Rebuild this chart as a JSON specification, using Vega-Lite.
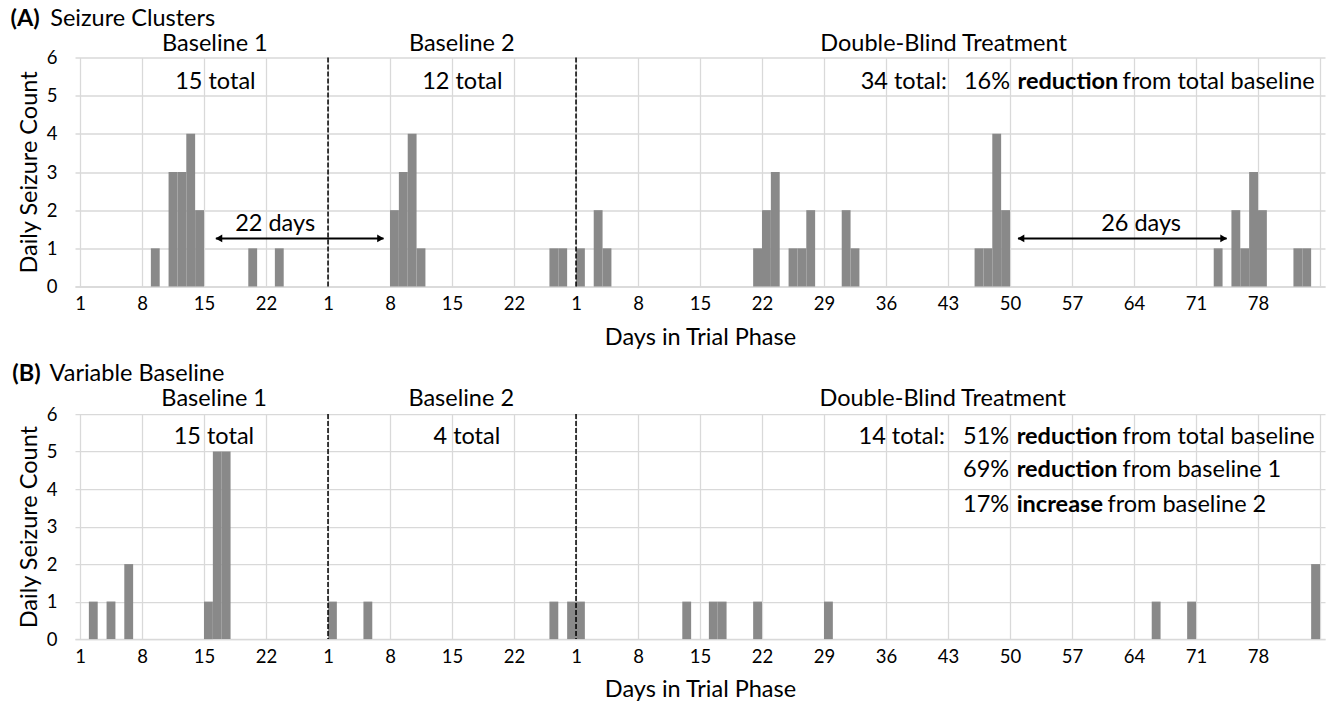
{
  "$schema": "https://vega.github.io/schema/vega-lite/v6.json",
  "padding": {"left": 10, "top": 6.5, "right": 5, "bottom": 5},
  "background": "white",
  "config": {
    "font": "Lato",
    "view": {"stroke": null},
    "axis": {"labelColor": "#000", "titleColor": "#000", "titleFontWeight": "normal", "titleFont": "Lato", "labelFont": "Lato"},
    "axisX": {"labelDx": 4.46, "labelFontSize": 18.5, "labelPadding": 8, "labelOverlap": false, "labelFlush": false, "labelBound": false,
      "ticks": false, "domain": true, "domainColor": "#d9d9d9", "domainWidth": 1.5, "grid": true, "gridColor": "#d9d9d9", "gridWidth": 1.3,
      "titleFontSize": 23.5, "titlePadding": 12},
    "axisY": {"labelFontSize": 18.5, "labelPadding": 18, "labelOverlap": false, "ticks": false, "domain": false, "grid": true,
      "gridColor": "#d9d9d9", "gridWidth": 1.3, "titleFontSize": 23.5, "titlePadding": 5}
  },
  "spacing": 127.6,
  "bounds": "flush",
  "datasets": {
    "barsA": [
      {"day": 9, "count": 1}, {"day": 11, "count": 3}, {"day": 12, "count": 3}, {"day": 13, "count": 4}, {"day": 14, "count": 2},
      {"day": 20, "count": 1}, {"day": 23, "count": 1},
      {"day": 36, "count": 2}, {"day": 37, "count": 3}, {"day": 38, "count": 4}, {"day": 39, "count": 1},
      {"day": 54, "count": 1}, {"day": 55, "count": 1},
      {"day": 57, "count": 1}, {"day": 59, "count": 2}, {"day": 60, "count": 1},
      {"day": 77, "count": 1}, {"day": 78, "count": 2}, {"day": 79, "count": 3},
      {"day": 81, "count": 1}, {"day": 82, "count": 1}, {"day": 83, "count": 2},
      {"day": 87, "count": 2}, {"day": 88, "count": 1},
      {"day": 102, "count": 1}, {"day": 103, "count": 1}, {"day": 104, "count": 4}, {"day": 105, "count": 2},
      {"day": 129, "count": 1}, {"day": 131, "count": 2}, {"day": 132, "count": 1}, {"day": 133, "count": 3}, {"day": 134, "count": 2},
      {"day": 138, "count": 1}, {"day": 139, "count": 1}
    ],
    "barsB": [
      {"day": 2, "count": 1}, {"day": 4, "count": 1}, {"day": 6, "count": 2}, {"day": 15, "count": 1}, {"day": 16, "count": 5}, {"day": 17, "count": 5},
      {"day": 29, "count": 1}, {"day": 33, "count": 1}, {"day": 54, "count": 1}, {"day": 56, "count": 1},
      {"day": 57, "count": 1}, {"day": 69, "count": 1}, {"day": 72, "count": 1}, {"day": 73, "count": 1}, {"day": 77, "count": 1}, {"day": 85, "count": 1},
      {"day": 122, "count": 1}, {"day": 126, "count": 1}, {"day": 140, "count": 2}
    ],
    "phaseEnds": [{"last_day": 28, "level": 0}, {"last_day": 56, "level": 0}],
    "notes": [
      {"panel": "A", "kind": "bold", "text": "(A)", "day": -7.34, "level": 6.83},
      {"panel": "A", "kind": "left", "text": "Seizure Clusters", "day": -2.86, "level": 6.83},
      {"panel": "A", "kind": "center", "text": "Baseline 1", "day": 15.73, "level": 6.18},
      {"panel": "A", "kind": "center", "text": "Baseline 2", "day": 43.6, "level": 6.18},
      {"panel": "A", "kind": "center", "text": "Double-Blind Treatment", "day": 98.0, "level": 6.18},
      {"panel": "A", "kind": "center", "text": "15 total", "day": 15.79, "level": 5.18},
      {"panel": "A", "kind": "center", "text": "12 total", "day": 43.67, "level": 5.18},
      {"panel": "A", "kind": "left", "text": "34 total:", "day": 88.64, "level": 5.18},
      {"panel": "A", "kind": "left", "text": "16%", "day": 100.3, "level": 5.18},
      {"panel": "A", "kind": "bold", "text": "reduction", "day": 106.35, "level": 5.18},
      {"panel": "A", "kind": "left", "text": "from total baseline", "day": 118.2, "level": 5.18},
      {"panel": "A", "kind": "center", "text": "22 days", "day": 22.53, "level": 1.46},
      {"panel": "A", "kind": "center", "text": "26 days", "day": 120.3, "level": 1.46},
      {"panel": "B", "kind": "bold", "text": "(B)", "day": -7.15, "level": 6.87},
      {"panel": "B", "kind": "left", "text": "Variable Baseline", "day": -2.94, "level": 6.87},
      {"panel": "B", "kind": "center", "text": "Baseline 1", "day": 15.65, "level": 6.22},
      {"panel": "B", "kind": "center", "text": "Baseline 2", "day": 43.54, "level": 6.22},
      {"panel": "B", "kind": "center", "text": "Double-Blind Treatment", "day": 97.9, "level": 6.22},
      {"panel": "B", "kind": "center", "text": "15 total", "day": 15.62, "level": 5.2},
      {"panel": "B", "kind": "center", "text": "4 total", "day": 44.18, "level": 5.2},
      {"panel": "B", "kind": "left", "text": "14 total:", "day": 88.4, "level": 5.2},
      {"panel": "B", "kind": "left", "text": "51%", "day": 100.2, "level": 5.2},
      {"panel": "B", "kind": "bold", "text": "reduction", "day": 106.25, "level": 5.2},
      {"panel": "B", "kind": "left", "text": "from total baseline", "day": 118.2, "level": 5.2},
      {"panel": "B", "kind": "left", "text": "69%", "day": 100.2, "level": 4.31},
      {"panel": "B", "kind": "bold", "text": "reduction", "day": 106.25, "level": 4.31},
      {"panel": "B", "kind": "left", "text": "from baseline 1", "day": 118.2, "level": 4.31},
      {"panel": "B", "kind": "left", "text": "17%", "day": 100.2, "level": 3.39},
      {"panel": "B", "kind": "bold", "text": "increase", "day": 106.25, "level": 3.39},
      {"panel": "B", "kind": "left", "text": "from baseline 2", "day": 116.5, "level": 3.39}
    ],
    "arrowsA": [
      {"from": 15.84, "to": 34.77, "level": 1.26},
      {"from": 106.4, "to": 129.96, "level": 1.26}
    ]
  },
  "vconcat": [
    {
      "width": 1250,
      "height": 229,
      "layer": [
        {
          "data": {"name": "barsA"},
          "mark": {"type": "bar", "orient": "vertical", "width": 8.85, "color": "#898989"},
          "encoding": {
            "x": {"field": "day", "type": "quantitative", "scale": {"domain": [0.5, 140.5], "nice": false, "zero": false}, "title": "Days in Trial Phase",
              "axis": {"values": [0.5, 7.5, 14.5, 21.5, 28.5, 35.5, 42.5, 49.5, 56.5, 63.5, 70.5, 77.5, 84.5, 91.5, 98.5, 105.5, 112.5, 119.5, 126.5, 133.5, 140.5],
                "labelExpr": "datum.value > 140 ? '' : datum.value < 28 ? format(datum.value + 0.5, 'd') : datum.value < 56 ? format(datum.value - 27.5, 'd') : format(datum.value - 55.5, 'd')"}},
            "y": {"field": "count", "type": "quantitative", "scale": {"domain": [0, 6], "nice": false}, "title": "Daily Seizure Count", "axis": {"values": [0, 1, 2, 3, 4, 5, 6]}}
          }
        },
        {
          "data": {"name": "phaseEnds"},
          "mark": {"type": "rule", "color": "#000", "strokeDash": [5, 2], "strokeWidth": 1.5, "xOffset": 4.46},
          "encoding": {
            "x": {"field": "last_day", "type": "quantitative", "scale": {"domain": [0.5, 140.5], "nice": false, "zero": false}, "title": "Days in Trial Phase",
              "axis": {"values": [0.5, 7.5, 14.5, 21.5, 28.5, 35.5, 42.5, 49.5, 56.5, 63.5, 70.5, 77.5, 84.5, 91.5, 98.5, 105.5, 112.5, 119.5, 126.5, 133.5, 140.5],
                "labelExpr": "datum.value > 140 ? '' : datum.value < 28 ? format(datum.value + 0.5, 'd') : datum.value < 56 ? format(datum.value - 27.5, 'd') : format(datum.value - 55.5, 'd')"}}
          }
        },
        {
          "data": {"name": "arrowsA"},
          "mark": {"type": "rule", "color": "#000", "strokeWidth": 2},
          "encoding": {
            "x": {"field": "from", "type": "quantitative", "scale": {"domain": [0.5, 140.5], "nice": false, "zero": false}, "title": "Days in Trial Phase",
              "axis": {"values": [0.5, 7.5, 14.5, 21.5, 28.5, 35.5, 42.5, 49.5, 56.5, 63.5, 70.5, 77.5, 84.5, 91.5, 98.5, 105.5, 112.5, 119.5, 126.5, 133.5, 140.5],
                "labelExpr": "datum.value > 140 ? '' : datum.value < 28 ? format(datum.value + 0.5, 'd') : datum.value < 56 ? format(datum.value - 27.5, 'd') : format(datum.value - 55.5, 'd')"}},
            "x2": {"field": "to"},
            "y": {"field": "level", "type": "quantitative", "scale": {"domain": [0, 6], "nice": false}, "title": "Daily Seizure Count", "axis": {"values": [0, 1, 2, 3, 4, 5, 6]}}
          }
        },
        {
          "data": {"name": "arrowsA"},
          "mark": {"type": "point", "shape": "triangle-left", "filled": true, "color": "#000", "size": 60, "opacity": 1, "xOffset": 3},
          "encoding": {
            "x": {"field": "from", "type": "quantitative", "scale": {"domain": [0.5, 140.5], "nice": false, "zero": false}, "title": "Days in Trial Phase",
              "axis": {"values": [0.5, 7.5, 14.5, 21.5, 28.5, 35.5, 42.5, 49.5, 56.5, 63.5, 70.5, 77.5, 84.5, 91.5, 98.5, 105.5, 112.5, 119.5, 126.5, 133.5, 140.5],
                "labelExpr": "datum.value > 140 ? '' : datum.value < 28 ? format(datum.value + 0.5, 'd') : datum.value < 56 ? format(datum.value - 27.5, 'd') : format(datum.value - 55.5, 'd')"}},
            "y": {"field": "level", "type": "quantitative", "scale": {"domain": [0, 6], "nice": false}, "title": "Daily Seizure Count", "axis": {"values": [0, 1, 2, 3, 4, 5, 6]}}
          }
        },
        {
          "data": {"name": "arrowsA"},
          "mark": {"type": "point", "shape": "triangle-right", "filled": true, "color": "#000", "size": 60, "opacity": 1, "xOffset": -3},
          "encoding": {
            "x": {"field": "to", "type": "quantitative", "scale": {"domain": [0.5, 140.5], "nice": false, "zero": false}, "title": "Days in Trial Phase",
              "axis": {"values": [0.5, 7.5, 14.5, 21.5, 28.5, 35.5, 42.5, 49.5, 56.5, 63.5, 70.5, 77.5, 84.5, 91.5, 98.5, 105.5, 112.5, 119.5, 126.5, 133.5, 140.5],
                "labelExpr": "datum.value > 140 ? '' : datum.value < 28 ? format(datum.value + 0.5, 'd') : datum.value < 56 ? format(datum.value - 27.5, 'd') : format(datum.value - 55.5, 'd')"}},
            "y": {"field": "level", "type": "quantitative", "scale": {"domain": [0, 6], "nice": false}, "title": "Daily Seizure Count", "axis": {"values": [0, 1, 2, 3, 4, 5, 6]}}
          }
        },
        {
          "data": {"name": "notes"},
          "transform": [{"filter": "datum.panel === 'A'"}],
          "layer": [
            {"transform": [{"filter": "datum.kind === 'center'"}], "mark": {"type": "text", "align": "center", "baseline": "alphabetic", "fontSize": 23.5, "font": "Lato", "color": "#000"}},
            {"transform": [{"filter": "datum.kind === 'left'"}], "mark": {"type": "text", "align": "left", "baseline": "alphabetic", "fontSize": 23.5, "font": "Lato", "color": "#000"}},
            {"transform": [{"filter": "datum.kind === 'bold'"}], "mark": {"type": "text", "align": "left", "baseline": "alphabetic", "fontSize": 23.5, "font": "Lato", "fontWeight": "bold", "color": "#000"}}
          ],
          "encoding": {
            "x": {"field": "day", "type": "quantitative", "scale": {"domain": [0.5, 140.5], "nice": false, "zero": false}, "title": "Days in Trial Phase",
              "axis": {"values": [0.5, 7.5, 14.5, 21.5, 28.5, 35.5, 42.5, 49.5, 56.5, 63.5, 70.5, 77.5, 84.5, 91.5, 98.5, 105.5, 112.5, 119.5, 126.5, 133.5, 140.5],
                "labelExpr": "datum.value > 140 ? '' : datum.value < 28 ? format(datum.value + 0.5, 'd') : datum.value < 56 ? format(datum.value - 27.5, 'd') : format(datum.value - 55.5, 'd')"}},
            "y": {"field": "level", "type": "quantitative", "scale": {"domain": [0, 6], "nice": false}, "title": "Daily Seizure Count", "axis": {"values": [0, 1, 2, 3, 4, 5, 6]}},
            "text": {"field": "text"}
          }
        }
      ]
    },
    {
      "width": 1250,
      "height": 225,
      "layer": [
        {
          "data": {"name": "barsB"},
          "mark": {"type": "bar", "orient": "vertical", "width": 8.85, "color": "#898989"},
          "encoding": {
            "x": {"field": "day", "type": "quantitative", "scale": {"domain": [0.5, 140.5], "nice": false, "zero": false}, "title": "Days in Trial Phase",
              "axis": {"values": [0.5, 7.5, 14.5, 21.5, 28.5, 35.5, 42.5, 49.5, 56.5, 63.5, 70.5, 77.5, 84.5, 91.5, 98.5, 105.5, 112.5, 119.5, 126.5, 133.5, 140.5],
                "labelExpr": "datum.value > 140 ? '' : datum.value < 28 ? format(datum.value + 0.5, 'd') : datum.value < 56 ? format(datum.value - 27.5, 'd') : format(datum.value - 55.5, 'd')"}},
            "y": {"field": "count", "type": "quantitative", "scale": {"domain": [0, 6], "nice": false}, "title": "Daily Seizure Count", "axis": {"values": [0, 1, 2, 3, 4, 5, 6]}}
          }
        },
        {
          "data": {"name": "phaseEnds"},
          "mark": {"type": "rule", "color": "#000", "strokeDash": [5, 2], "strokeWidth": 1.5, "xOffset": 4.46},
          "encoding": {
            "x": {"field": "last_day", "type": "quantitative", "scale": {"domain": [0.5, 140.5], "nice": false, "zero": false}, "title": "Days in Trial Phase",
              "axis": {"values": [0.5, 7.5, 14.5, 21.5, 28.5, 35.5, 42.5, 49.5, 56.5, 63.5, 70.5, 77.5, 84.5, 91.5, 98.5, 105.5, 112.5, 119.5, 126.5, 133.5, 140.5],
                "labelExpr": "datum.value > 140 ? '' : datum.value < 28 ? format(datum.value + 0.5, 'd') : datum.value < 56 ? format(datum.value - 27.5, 'd') : format(datum.value - 55.5, 'd')"}}
          }
        },
        {
          "data": {"name": "notes"},
          "transform": [{"filter": "datum.panel === 'B'"}],
          "layer": [
            {"transform": [{"filter": "datum.kind === 'center'"}], "mark": {"type": "text", "align": "center", "baseline": "alphabetic", "fontSize": 23.5, "font": "Lato", "color": "#000"}},
            {"transform": [{"filter": "datum.kind === 'left'"}], "mark": {"type": "text", "align": "left", "baseline": "alphabetic", "fontSize": 23.5, "font": "Lato", "color": "#000"}},
            {"transform": [{"filter": "datum.kind === 'bold'"}], "mark": {"type": "text", "align": "left", "baseline": "alphabetic", "fontSize": 23.5, "font": "Lato", "fontWeight": "bold", "color": "#000"}}
          ],
          "encoding": {
            "x": {"field": "day", "type": "quantitative", "scale": {"domain": [0.5, 140.5], "nice": false, "zero": false}, "title": "Days in Trial Phase",
              "axis": {"values": [0.5, 7.5, 14.5, 21.5, 28.5, 35.5, 42.5, 49.5, 56.5, 63.5, 70.5, 77.5, 84.5, 91.5, 98.5, 105.5, 112.5, 119.5, 126.5, 133.5, 140.5],
                "labelExpr": "datum.value > 140 ? '' : datum.value < 28 ? format(datum.value + 0.5, 'd') : datum.value < 56 ? format(datum.value - 27.5, 'd') : format(datum.value - 55.5, 'd')"}},
            "y": {"field": "level", "type": "quantitative", "scale": {"domain": [0, 6], "nice": false}, "title": "Daily Seizure Count", "axis": {"values": [0, 1, 2, 3, 4, 5, 6]}},
            "text": {"field": "text"}
          }
        }
      ]
    }
  ]
}
